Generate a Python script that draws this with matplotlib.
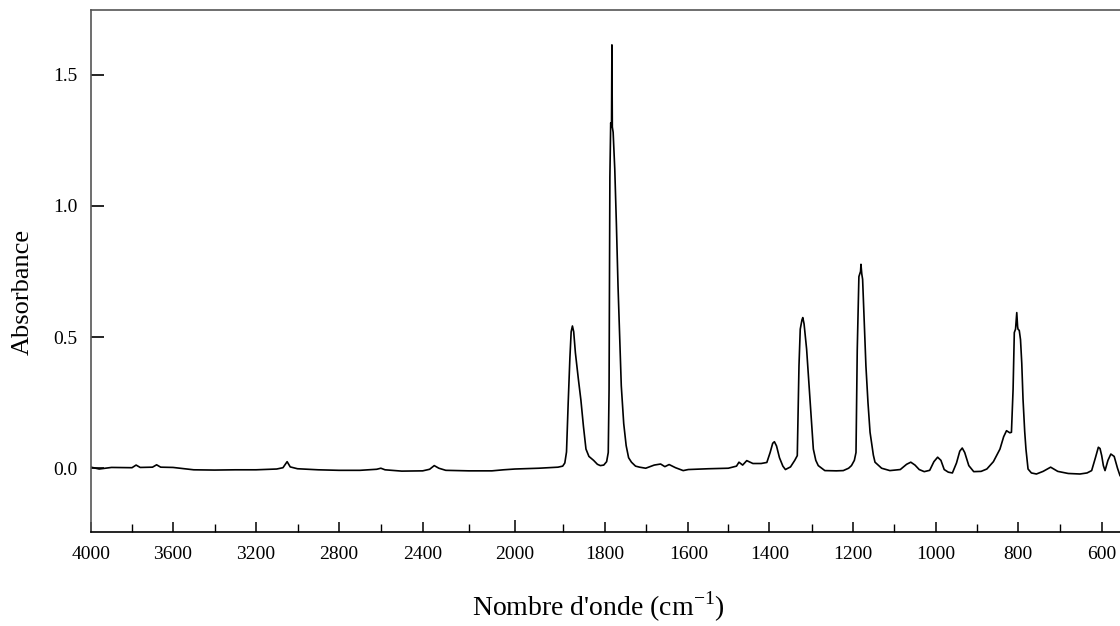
import numpy as np
import matplotlib
matplotlib.use("Agg")
import matplotlib.pyplot as plt

plt.rcParams["font.family"] = ["Liberation Serif", "DejaVu Serif"]
plt.rcParams["mathtext.fontset"] = "custom"
plt.rcParams["mathtext.rm"] = "Liberation Serif"

# spectrum (wavenumber in cm-1, absorbance)
wavenumber = [
    4000, 3960, 3900, 3800, 3780, 3760, 3700, 3680, 3660, 3600,
    3500, 3400, 3300, 3200, 3100, 3070, 3050, 3035, 3000, 2900,
    2800, 2700, 2620, 2600, 2580, 2500, 2400, 2370, 2350, 2330,
    2300, 2200, 2100, 2050, 2000, 1950, 1910, 1900, 1895, 1891,
    1887, 1883, 1880, 1877, 1874, 1870, 1863, 1857, 1851, 1845,
    1838, 1827, 1818, 1811, 1803, 1796, 1792, 1790, 1788, 1786,
    1784, 1783, 1782, 1780, 1776, 1772, 1768, 1764, 1760, 1754,
    1748, 1742, 1735, 1725, 1715, 1700, 1680, 1665, 1655, 1645,
    1630, 1612, 1600, 1550, 1500, 1480, 1474, 1465, 1455, 1440,
    1420, 1406, 1398, 1392, 1388, 1383, 1376, 1368, 1362, 1350,
    1340, 1334, 1330, 1327, 1323, 1321, 1318, 1312, 1304, 1296,
    1290, 1284, 1268, 1240, 1223, 1210, 1203, 1196, 1192, 1189,
    1185, 1181, 1180, 1178, 1176, 1172, 1168, 1163, 1158, 1150,
    1146, 1130, 1110, 1085, 1070, 1060, 1050, 1040, 1028, 1015,
    1005, 996, 988, 980, 970, 960, 950, 942, 936, 930,
    920, 908, 890, 876, 860, 844, 835, 828, 820, 816,
    812, 809, 806, 803, 801, 800, 797, 794, 791, 788,
    784, 781, 776, 768, 756, 740, 722, 705, 680, 652,
    635, 624, 615, 608, 604, 600, 596, 592, 585, 578,
    570, 562, 556,
]
absorbance = [
    0.004, -0.003, 0.003, 0.002, 0.012, 0.003, 0.004, 0.013, 0.004, 0.003,
    -0.006, -0.007, -0.006, -0.006, -0.003, 0.002, 0.025, 0.005, -0.002, -0.006,
    -0.008, -0.008, -0.004, 0.0, -0.006, -0.011, -0.010, -0.004, 0.010, 0.0,
    -0.008, -0.010, -0.010, -0.006, -0.003, 0.0, 0.004, 0.008, 0.020, 0.062,
    0.25, 0.42, 0.52, 0.542, 0.52, 0.44, 0.34, 0.26, 0.16, 0.073,
    0.045, 0.030, 0.015, 0.010, 0.012, 0.025, 0.060, 0.30, 1.11, 1.316,
    1.30, 1.613, 1.30, 1.28, 1.14, 0.93, 0.694, 0.50, 0.314, 0.17,
    0.086, 0.040, 0.023, 0.008, 0.004, 0.0, 0.012, 0.016, 0.006, 0.014,
    0.002, -0.009, -0.005, -0.002, 0.0, 0.008, 0.023, 0.012, 0.029, 0.018,
    0.018, 0.022, 0.060, 0.095, 0.101, 0.085, 0.040, 0.008, -0.005, 0.005,
    0.030, 0.048, 0.39, 0.53, 0.565, 0.574, 0.55, 0.454, 0.263, 0.073,
    0.030, 0.010, -0.009, -0.010, -0.009, 0.0, 0.010, 0.030, 0.060, 0.45,
    0.73, 0.75, 0.777, 0.74, 0.72, 0.56, 0.39, 0.25, 0.137, 0.050,
    0.023, 0.0, -0.009, -0.005, 0.015, 0.023, 0.012, -0.005, -0.013, -0.008,
    0.025, 0.042, 0.030, -0.005, -0.015, -0.018, 0.020, 0.065, 0.077, 0.060,
    0.010, -0.013, -0.012, -0.003, 0.025, 0.073, 0.120, 0.143, 0.135, 0.137,
    0.30, 0.517, 0.53, 0.593, 0.54, 0.53, 0.525, 0.49, 0.40, 0.263,
    0.14, 0.073, -0.003, -0.018, -0.022, -0.012, 0.004, -0.012, -0.020, -0.022,
    -0.018, -0.009, 0.040, 0.080, 0.075, 0.048, 0.010, -0.009, 0.030, 0.054,
    0.045, 0.0, -0.028,
]
assert len(wavenumber) == len(absorbance)

x_major = [4000, 3600, 3200, 2800, 2400, 2000, 1800, 1600, 1400, 1200, 1000, 800, 600]
x_minor = [3800, 3400, 3000, 2600, 2200, 1900, 1700, 1500, 1300, 1100, 900, 700]
y_ticks = [0.0, 0.5, 1.0, 1.5]

# the printed axis is not uniform: above 2000 cm-1 it is compressed (about x2),
# and the chart paper is slightly uneven; knots follow the printed tick marks
knot_wn = [556, 600, 800, 1000, 1100, 1200, 1300, 1400, 1500, 1600, 1700,
           1800, 1900, 2000, 2400, 2800, 3200, 3600, 4000]
knot_pos = [1120.0, 1101.7, 1018.0, 936.0, 894.0, 852.7, 811.7, 769.3, 728.3,
            688.3, 645.7, 605.0, 562.7, 515.0, 422.7, 339.0, 256.0, 173.0, 91.0]
knot_pos_inc = knot_pos[::-1]
knot_wn_dec = knot_wn[::-1]


def fwd(x):
    # larger wavenumber -> smaller position, so return minus position (monotone increasing)
    x = np.asarray(x, dtype=float)
    return -np.interp(x, knot_wn, knot_pos)


def inv(p):
    p = np.asarray(p, dtype=float)
    return np.interp(-p, knot_pos_inc, knot_wn_dec)


fig = plt.figure(figsize=(11.2, 6.26), dpi=100)
ax = fig.add_axes([91 / 1120, 94 / 626, 1 - 91 / 1120, 522 / 626])

ax.plot(wavenumber, absorbance, color="black", lw=1.2)

ax.set_xscale("function", functions=(fwd, inv))
ax.set_xlim(4000, 556)
ax.set_ylim(-0.243, 1.746)

ax.set_xticks(x_major)
ax.set_xticks(x_minor, minor=True)
ax.set_xticklabels([str(v) for v in x_major])
ax.set_yticks(y_ticks)
ax.set_yticklabels([f"{v:.1f}" for v in y_ticks])

ax.tick_params(axis="x", which="major", direction="in", length=7.5, width=1.1,
               pad=10, labelsize=14)
ax.tick_params(axis="x", which="minor", direction="in", length=5.5, width=1.0)
ax.tick_params(axis="y", direction="in", length=9.5, width=1.2, pad=10, labelsize=14)
ax.xaxis.get_major_ticks()[5].tick1line.set_markersize(9)

for side in ["left", "top"]:
    ax.spines[side].set_color("#555555")
    ax.spines[side].set_linewidth(1.2)
ax.spines["bottom"].set_color("black")
ax.spines["bottom"].set_linewidth(1.2)
ax.spines["right"].set_visible(False)

ax.set_xlabel(r"Nombre d'onde (cm$^{\mathregular{-1}}$)", fontsize=20, va="center")
ax.xaxis.set_label_coords(0.493, -0.144)
ax.set_ylabel("Absorbance", fontsize=19, va="center")
ax.yaxis.set_label_coords(-0.066, 0.46)

fig.savefig("out.png", dpi=100)
